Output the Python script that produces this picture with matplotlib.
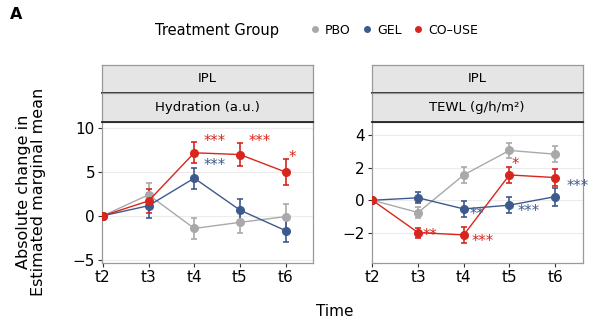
import matplotlib
matplotlib.use("Agg")
import matplotlib.pyplot as plt
from matplotlib.lines import Line2D

plt.rcParams['font.family'] = ['DejaVu Sans']

# time points and groups
times = ["t2", "t3", "t4", "t5", "t6"]
groups = ["PBO", "GEL", "CO\u2013USE"]
colors = {"PBO": "#a9a9a9", "GEL": "#3d5a8e", "CO\u2013USE": "#d7261e"}

# Hydration (a.u.) - estimated marginal mean change and error
hyd_pbo = [0, 2.4, -1.45, -0.75, -0.1]
hyd_pbo_err = [0, 1.4, 1.2, 1.25, 1.45]
hyd_gel = [0, 1.15, 4.3, 0.65, -1.7]
hyd_gel_err = [0, 1.4, 1.2, 1.3, 1.35]
hyd_co = [0, 1.7, 7.2, 7.0, 5.0]
hyd_co_err = [0, 1.4, 1.2, 1.27, 1.45]

# TEWL (g/h/m2)
tewl_pbo = [0, -0.75, 1.55, 3.05, 2.82]
tewl_pbo_err = [0, 0.35, 0.5, 0.48, 0.5]
tewl_gel = [0, 0.15, -0.53, -0.3, 0.22]
tewl_gel_err = [0, 0.33, 0.48, 0.5, 0.55]
tewl_co = [0, -1.98, -2.12, 1.55, 1.39]
tewl_co_err = [0, 0.3, 0.5, 0.5, 0.5]

# significance labels: (group, x, y, label)
hyd_stars = [("CO\u2013USE", 2.44, 8.5, "***"), ("CO\u2013USE", 3.44, 8.5, "***"),
             ("CO\u2013USE", 4.14, 6.7, "*"), ("GEL", 2.44, 5.8, "***")]
tewl_stars = [("CO\u2013USE", 1.26, -2.15, "**"), ("CO\u2013USE", 2.42, -2.5, "***"),
              ("CO\u2013USE", 3.13, 2.2, "*"), ("GEL", 2.28, -0.9, "**"),
              ("GEL", 3.43, -0.7, "***"), ("GEL", 4.5, 0.85, "***")]

panels = [
    dict(title="Hydration (a.u.)", series=[(hyd_pbo, hyd_pbo_err), (hyd_gel, hyd_gel_err), (hyd_co, hyd_co_err)],
         stars=hyd_stars, ylim=(-5.4, 10.72), yticks=[-5, 0, 5, 10], left=102),
    dict(title="TEWL (g/h/m\u00b2)", series=[(tewl_pbo, tewl_pbo_err), (tewl_gel, tewl_gel_err), (tewl_co, tewl_co_err)],
         stars=tewl_stars, ylim=(-3.84, 4.79), yticks=[-2, 0, 2, 4], left=371.5),
]

W, H = 600, 325
fig = plt.figure(figsize=(6, 3.25), dpi=100)

for p in panels:
    l = p["left"] / W
    w = 211 / W
    ax = fig.add_axes([l, (H - 263) / H, w, 141 / H])
    x = list(range(len(times)))
    for g, (vals, errs) in zip(groups, p["series"]):
        ax.errorbar(x, vals, yerr=errs, color=colors[g], marker="o", markersize=5.5,
                    linewidth=1.0, elinewidth=1.2, capsize=2.5, capthick=1.2, zorder=3)
    for g, sx, sy, lab in p["stars"]:
        ax.text(sx, sy, lab, color=colors[g], fontsize=10.5,
                ha="center", va="center", clip_on=False, zorder=4)
    ax.set_xlim(-0.02, 4.6)
    ax.set_ylim(*p["ylim"])
    ax.set_xticks(x)
    ax.set_xticklabels(times)
    ax.set_yticks(p["yticks"])
    ax.yaxis.grid(True, color="#ececec", linewidth=0.8)
    ax.set_axisbelow(True)
    for s in ax.spines.values():
        s.set_color("#999999")
        s.set_linewidth(0.9)
    ax.tick_params(axis="both", labelsize=11, length=3, color="#333333", pad=2)

    # facet strips
    for (top, bot, txt) in [(65, 93, "IPL"), (93, 122, p["title"])]:
        sa = fig.add_axes([l, (H - bot) / H, w, (bot - top) / H])
        sa.set_facecolor("#e5e5e5")
        sa.set_xticks([])
        sa.set_yticks([])
        for s in sa.spines.values():
            s.set_color("#999999")
            s.set_linewidth(0.9)
        sa.spines["bottom"].set_color("#222222")
        sa.spines["bottom"].set_linewidth(1.3)
        sa.text(0.5, 0.5, txt, ha="center", va="center", fontsize=9.5, transform=sa.transAxes)

# labels
fig.text(0.017, 0.955, "A", fontsize=11.5, fontweight="bold", ha="left", va="center")
fig.text(0.052, 0.41, "Absolute change in\nEstimated marginal mean", rotation=90,
         ha="center", va="center", fontsize=11.5, linespacing=1.05)
fig.text(335 / W, 1 - 312 / H, "Time", ha="center", va="center", fontsize=11)

# legend
fig.text(155 / W, 1 - 30 / H, "Treatment Group", ha="left", va="center", fontsize=10.5)
handles = [Line2D([], [], color=colors[g], marker="o", linestyle="none", markersize=4) for g in groups]
fig.legend(handles, groups, loc="center left", bbox_to_anchor=(310 / W, 1 - 30 / H), ncol=3,
           frameon=False, fontsize=9, handlelength=0.8, handletextpad=0.4, columnspacing=0.9,
           borderaxespad=0, borderpad=0)

fig.savefig("out.png", dpi=100)
